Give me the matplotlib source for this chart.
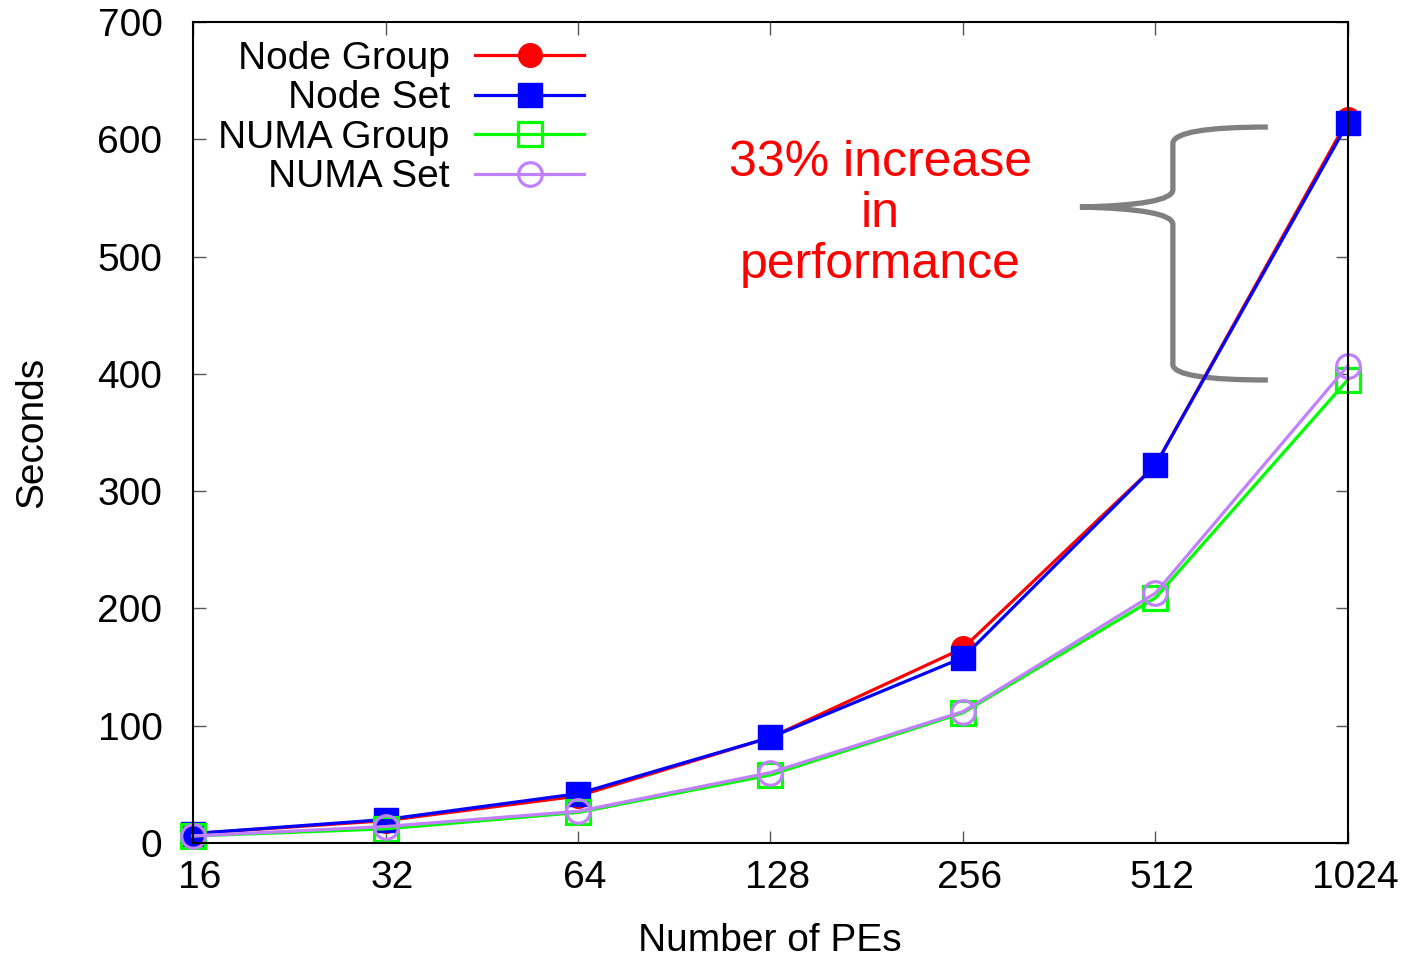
import matplotlib
matplotlib.use("Agg")
import matplotlib.pyplot as plt
import matplotlib.transforms as mtransforms
from matplotlib.path import Path
from matplotlib.patches import PathPatch
from matplotlib.ticker import FixedLocator, NullLocator

plt.rcParams['font.family'] = ['Liberation Sans', 'DejaVu Sans']

# runtime per PE count
pes = [16, 32, 64, 128, 256, 512, 1024]
node_group = [8, 19, 40, 90, 166, 322, 617]
node_set = [8, 20, 42, 90, 158, 322, 614]
numa_group = [6, 12, 26, 58, 111, 209, 395]
numa_set = [6, 14, 27, 60, 112, 213, 407]

y_ticks = [0, 100, 200, 300, 400, 500, 600, 700]

fig = plt.figure(figsize=(14.04, 9.59), dpi=100)
ax = fig.add_axes([0.1375, 0.121, 0.8225, 0.856])

lw = 2.3
ms = 17
ax.plot(pes, node_group, color='#ff0000', lw=lw, marker='o', ms=ms,
        clip_on=False, label='Node Group')
ax.plot(pes, node_set, color='#0000ff', lw=lw, marker='s', ms=ms,
        clip_on=False, label='Node Set')
ax.plot(pes, numa_group, color='#00ff00', lw=lw, marker='s', ms=ms,
        mfc='none', mew=2.3, clip_on=False, label='NUMA Group')
ax.plot(pes, numa_set, color='#c080ff', lw=lw, marker='o', ms=ms,
        mfc='none', mew=2.3, clip_on=False, label='NUMA Set')

ax.set_xscale('log', base=2)
ax.set_xlim(16, 1024)
ax.set_ylim(0, 700)
ax.xaxis.set_major_locator(FixedLocator(pes))
ax.xaxis.set_minor_locator(NullLocator())
ax.set_xticklabels([str(p) for p in pes])
ax.set_yticks(y_ticks)

ax.tick_params(direction='in', length=9, width=1, color='#555555',
               labelsize=28, top=True, right=True)
ax.tick_params(axis='x', pad=12)
ax.tick_params(axis='y', pad=22)
for s in ax.spines.values():
    s.set_linewidth(1.5)

# x tick labels sit a little right of their ticks
shift = mtransforms.ScaledTranslation(7 / 100, 0, fig.dpi_scale_trans)
for lab in ax.get_xticklabels():
    lab.set_transform(lab.get_transform() + shift)

ax.set_xlabel('Number of PEs', fontsize=28)
ax.set_ylabel('Seconds', fontsize=28)
ax.xaxis.set_label_coords(0.4996, -0.098)
ax.yaxis.set_label_coords(-0.124, 0.5)

ax.legend(loc='upper right', bbox_to_anchor=((584 - 193) / 1155, 0.977),
          markerfirst=False, frameon=False, fontsize=28, handlelength=2.8,
          handletextpad=0.65, labelspacing=0.09, borderpad=0,
          borderaxespad=0)

ax.text(0.595, 0.766, '33% increase\nin\nperformance', transform=ax.transAxes,
        ha='center', va='center', color='#ff0000', fontsize=36,
        linespacing=1.13)


# curly brace drawn in pixel space, converted to axes fraction
def px(x, y):
    return ((x - 193) / 1155.0, (843 - y) / 821.0)


verts = [
    px(1268, 127), px(1175, 127), px(1173, 143),
    px(1173, 190),
    px(1172, 205), px(1080, 207),
    px(1172, 209), px(1173, 224),
    px(1173, 365),
    px(1175, 380), px(1268, 380),
]
codes = [Path.MOVETO, Path.CURVE3, Path.CURVE3,
         Path.LINETO,
         Path.CURVE3, Path.CURVE3,
         Path.CURVE3, Path.CURVE3,
         Path.LINETO,
         Path.CURVE3, Path.CURVE3]
brace = PathPatch(Path(verts, codes), transform=ax.transAxes, fill=False,
                  edgecolor='#808080', lw=3.8, clip_on=False, capstyle='butt')
ax.add_patch(brace)

fig.savefig('out.png', dpi=100)
